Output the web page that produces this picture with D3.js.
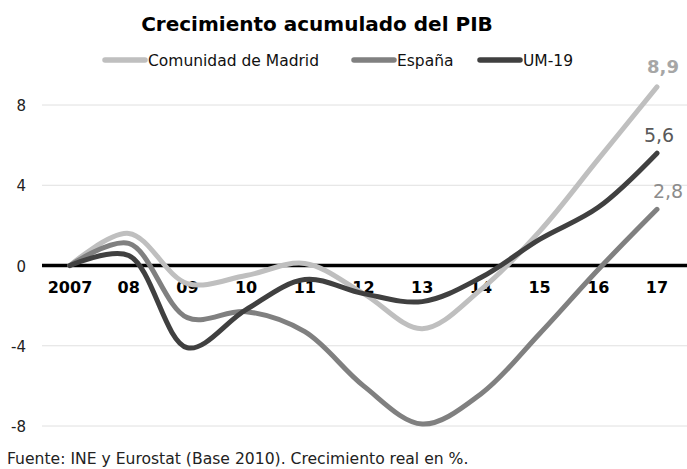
<!DOCTYPE html>
<html>
<head>
<meta charset="utf-8">
<script src="https://cdn.jsdelivr.net/npm/d3@7"></script>
<style>
  body { margin: 0; background: #fff; }
  svg { font-family: "DejaVu Sans", Verdana, sans-serif; }
</style>
</head>
<body>
<svg width="687" height="469"></svg>
<script>
  var years = ["2007", "08", "09", "10", "11", "12", "13", "14", "15", "16", "17"]
  var madrid = [0, 1.6, -0.9, -0.5, 0.1, -1.4, -3.15, -1.2, 1.7, 5.3, 8.9]
  var espana = [0, 1.1, -2.6, -2.3, -3.3, -6.0, -7.9, -6.4, -3.4, -0.2, 2.8]
  var um19 = [0, 0.5, -4.1, -2.2, -0.7, -1.4, -1.8, -0.6, 1.3, 2.9, 5.6]
  var seriesNames = ["Comunidad de Madrid", "España", "UM-19"]
  var endLabels = ["8,9", "2,8", "5,6"]
  var yTicks = [-8, -4, 0, 4, 8]

  // styling per series (colour, end label look)
  var styles = [
    { color: "#bfbfbf", labelColor: "#a6a6a6", bold: true, size: 18, dx: 6, dy: -14, legendX: 103 },
    { color: "#808080", labelColor: "#8c8c8c", bold: false, size: 19, dx: 11, dy: -11, legendX: 352 },
    { color: "#404040", labelColor: "#595959", bold: false, size: 19, dx: 2, dy: -11, legendX: 478 }
  ]

  var series = [madrid, espana, um19].map(function (vals, i) {
    return { name: seriesNames[i], values: vals, label: endLabels[i], style: styles[i] }
  })

  var svg = d3.select('svg')

  var x = d3.scalePoint().domain(years).range([70, 657])
  var y = d3.scaleLinear().domain([-8, 8]).range([426, 105])

  // gridlines
  svg.append("g")
    .selectAll("line")
    .data(yTicks.filter(function (t) { return t !== 0 }))
    .enter().append("line")
    .attr("x1", 42).attr("x2", 687)
    .attr("y1", function (t) { return y(t) })
    .attr("y2", function (t) { return y(t) })
    .attr("stroke", "#e0e0e0")
    .attr("stroke-width", 1)

  // y tick labels
  svg.append("g")
    .selectAll("text")
    .data(yTicks)
    .enter().append("text")
    .attr("x", 26)
    .attr("y", function (t) { return y(t) + 6 })
    .attr("text-anchor", "end")
    .attr("font-size", 15)
    .attr("fill", "#222")
    .text(function (t) { return t })

  // zero line
  svg.append("line")
    .attr("x1", 42).attr("x2", 687)
    .attr("y1", y(0)).attr("y2", y(0))
    .attr("stroke", "#000")
    .attr("stroke-width", 3.5)

  // x labels
  svg.append("g")
    .selectAll("text")
    .data(years)
    .enter().append("text")
    .attr("x", function (d) { return x(d) })
    .attr("y", 293)
    .attr("text-anchor", "middle")
    .attr("font-size", 16)
    .attr("font-weight", "bold")
    .attr("fill", "#000")
    .text(function (d) { return d })

  var line = d3.line()
    .x(function (d, i) { return x(years[i]) })
    .y(function (d) { return y(d) })
    .curve(d3.curveCatmullRom.alpha(0.5))

  svg.append("g")
    .selectAll("path")
    .data(series)
    .enter().append("path")
    .attr("d", function (s) { return line(s.values) })
    .attr("fill", "none")
    .attr("stroke", function (s) { return s.style.color })
    .attr("stroke-width", 5)
    .attr("stroke-linecap", "round")

  // end labels
  var last = years[years.length - 1]
  svg.append("g")
    .selectAll("text")
    .data(series)
    .enter().append("text")
    .attr("x", function (s) { return x(last) + s.style.dx })
    .attr("y", function (s) { return y(s.values[s.values.length - 1]) + s.style.dy })
    .attr("text-anchor", "middle")
    .attr("font-size", function (s) { return s.style.size })
    .attr("font-weight", function (s) { return s.style.bold ? "bold" : "normal" })
    .attr("fill", function (s) { return s.style.labelColor })
    .text(function (s) { return s.label })

  // title
  svg.append("text")
    .attr("x", 317).attr("y", 31)
    .attr("text-anchor", "middle")
    .attr("font-size", 20)
    .attr("font-weight", "bold")
    .text("Crecimiento acumulado del PIB")

  // legend
  var legend = svg.append("g")
    .selectAll("g")
    .data(series)
    .enter().append("g")
    .attr("transform", function (s) { return "translate(" + s.style.legendX + ",60)" })
  legend.append("line")
    .attr("x1", 2).attr("x2", 42)
    .attr("y1", 0).attr("y2", 0)
    .attr("stroke", function (s) { return s.style.color })
    .attr("stroke-width", 5.5)
    .attr("stroke-linecap", "round")
  legend.append("text")
    .attr("x", 45).attr("y", 6)
    .attr("font-size", 15.5)
    .attr("fill", "#111")
    .text(function (s) { return s.name })

  // footer
  svg.append("text")
    .attr("x", 7).attr("y", 464)
    .attr("font-size", 15.6)
    .attr("fill", "#222")
    .text("Fuente: INE y Eurostat (Base 2010). Crecimiento real en %.")
</script>
</body>
</html>
